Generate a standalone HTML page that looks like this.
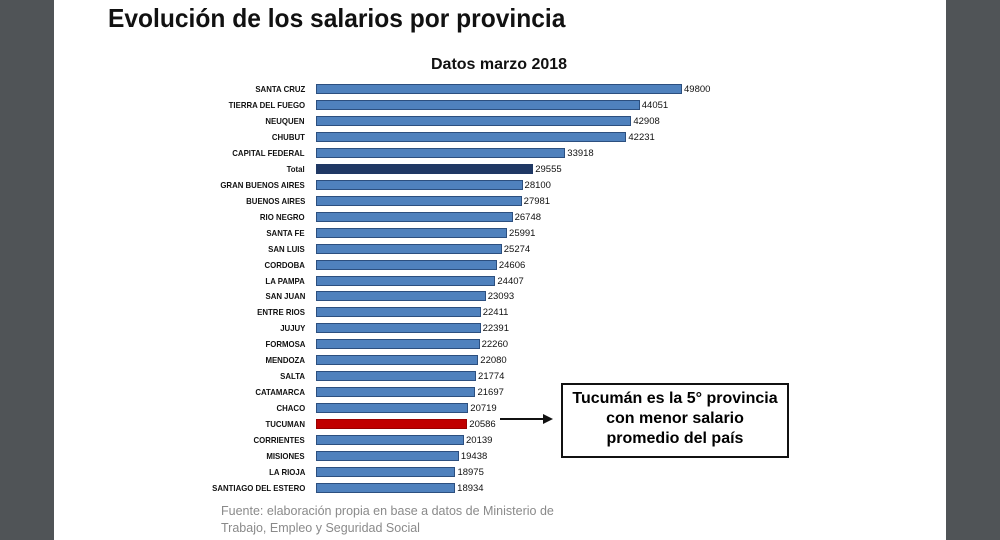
<!DOCTYPE html>
<html><head><meta charset="utf-8"><style>
body{margin:0;width:1000px;height:540px;background:#505457;overflow:hidden;font-family:"Liberation Sans",sans-serif}
#pg{position:absolute;left:54px;top:0;width:892px;height:540px;background:#fff}
.t{position:absolute;white-space:nowrap}
.lab{position:absolute;right:695px;font-size:8.5px;font-weight:bold;color:#111;line-height:10px;transform:scaleX(0.92);transform-origin:right}
.bar{position:absolute;left:316px;height:8px;background:#4f81bd;border:1px solid #2c4f7f;box-sizing:content-box}
.val{position:absolute;font-size:9.5px;color:#111;line-height:10px}
</style></head><body>
<div id="pg"></div>
<div class="t" style="left:108px;top:3px;font-size:26px;font-weight:bold;color:#111;transform:scaleX(0.945);transform-origin:left">Evolución de los salarios por provincia</div>
<div class="t" style="left:431px;top:56px;font-size:16px;font-weight:bold;color:#111">Datos marzo 2018</div>
<div id="c"></div>
<div class="t" style="left:561px;top:383px;width:224px;height:67px;border:2px solid #111;font-size:16px;font-weight:bold;text-align:center;line-height:20px;padding-top:4px;box-sizing:content-box">Tucumán es la 5° provincia<br>con menor salario<br>promedio del país</div>
<div class="t" style="left:500px;top:418px;width:44px;height:2px;background:#111"></div>
<div class="t" style="left:543px;top:414px;width:0;height:0;border-left:10px solid #111;border-top:5px solid transparent;border-bottom:5px solid transparent"></div>
<div class="t" style="left:221px;top:503px;font-size:12.5px;color:#8a8a8a;line-height:17px">Fuente: elaboración propia en base a datos de Ministerio de<br>Trabajo, Empleo y Seguridad Social</div>
<script>
var d=[["SANTA CRUZ",49800],["TIERRA DEL FUEGO",44051],["NEUQUEN",42908],["CHUBUT",42231],["CAPITAL FEDERAL",33918],["Total",29555],["GRAN BUENOS AIRES",28100],["BUENOS AIRES",27981],["RIO NEGRO",26748],["SANTA FE",25991],["SAN LUIS",25274],["CORDOBA",24606],["LA PAMPA",24407],["SAN JUAN",23093],["ENTRE RIOS",22411],["JUJUY",22391],["FORMOSA",22260],["MENDOZA",22080],["SALTA",21774],["CATAMARCA",21697],["CHACO",20719],["TUCUMAN",20586],["CORRIENTES",20139],["MISIONES",19438],["LA RIOJA",18975],["SANTIAGO DEL ESTERO",18934]];
var h="";d.forEach(function(r,i){var y=89+i*15.96;var w=r[1]*0.00735;
var bg=r[0]=="Total"?"background:#1f3864;border-color:#1f3864":(r[0]=="TUCUMAN"?"background:#c00000;border-color:#900":"");
h+='<div class="lab" style="top:'+(y-5)+'px">'+r[0]+'</div><div class="bar" style="top:'+(y-5)+'px;width:'+(w-2)+'px;'+bg+'"></div><div class="val" style="left:'+(316+w+2)+'px;top:'+(y-4)+'px">'+r[1]+'</div>';});
document.getElementById("c").innerHTML=h;
</script>
</body></html>
